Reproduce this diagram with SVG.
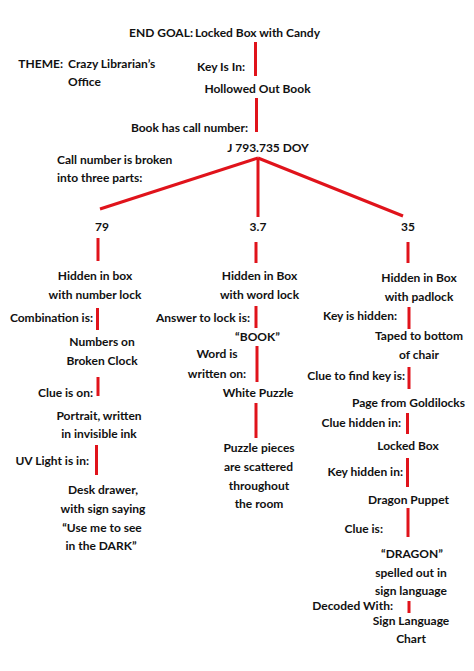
<svg xmlns="http://www.w3.org/2000/svg" width="474" height="671" viewBox="0 0 474 671">
<style>
text{font-family:Lato,"Liberation Sans",sans-serif;font-weight:bold;font-size:12px;fill:#111}
.m{text-anchor:middle}
.e{text-anchor:end}
.c line{stroke:#e0131b;stroke-width:3;stroke-linecap:butt}
</style>
<rect width="474" height="671" fill="#fff"/>
<g class="c" id="connectors">
<line x1="255.5" y1="42" x2="255.5" y2="76"/>
<line x1="256.5" y1="98" x2="256.5" y2="132"/>
<line x1="258" y1="158" x2="100" y2="209"/>
<line x1="258" y1="158" x2="258" y2="217"/>
<line x1="258" y1="158" x2="403" y2="216"/>
<line x1="98" y1="238" x2="98" y2="261"/>
<line x1="97.5" y1="308" x2="97.5" y2="330"/>
<line x1="98" y1="377" x2="98" y2="396"/>
<line x1="96.5" y1="445" x2="96.5" y2="475"/>
<line x1="256" y1="242" x2="256" y2="263"/>
<line x1="256" y1="306" x2="256" y2="328"/>
<line x1="257" y1="346" x2="257" y2="382"/>
<line x1="256" y1="403" x2="256" y2="438"/>
<line x1="408" y1="242" x2="408" y2="263"/>
<line x1="409" y1="307" x2="409" y2="329"/>
<line x1="409" y1="367" x2="409" y2="389"/>
<line x1="407.5" y1="413" x2="407.5" y2="434"/>
<line x1="407.5" y1="458" x2="407.5" y2="487"/>
<line x1="408" y1="508" x2="408" y2="537"/>
<line x1="409" y1="601" x2="409" y2="613"/>
</g>
<g id="goal"><text x="193" y="37" class="e">END GOAL:</text><text x="195" y="37">Locked Box with Candy</text></g>
<g id="theme"><text x="63" y="68" class="e">THEME:</text><text x="68" y="68">Crazy Librarian’s</text><text x="68" y="86">Office</text></g>
<g id="keyisin"><text x="245" y="71" class="e">Key Is In:</text></g>
<g id="book"><text x="257.5" y="93" class="m">Hollowed Out Book</text></g>
<g id="callnumlabel"><text x="248" y="132" class="e">Book has call number:</text></g>
<g id="callnum"><text x="268" y="152" class="m">J 793.735 DOY</text></g>
<g id="brokenlabel"><text x="57" y="164">Call number is broken</text><text x="57" y="182">into three parts:</text></g>
<g id="n79"><text x="102" y="231" class="m">79</text></g>
<g id="n37"><text x="258" y="231" class="m">3.7</text></g>
<g id="n35"><text x="408" y="231" class="m">35</text></g>
<g id="l1"><text x="95" y="280" class="m">Hidden in box</text><text x="95" y="299" class="m">with number lock</text></g>
<g id="l1lab"><text x="93" y="322" class="e">Combination is:</text></g>
<g id="l2"><text x="102" y="346" class="m">Numbers on</text><text x="102" y="365" class="m">Broken Clock</text></g>
<g id="l2lab"><text x="93" y="397" class="e">Clue is on:</text></g>
<g id="l3"><text x="99" y="420" class="m">Portrait, written</text><text x="99" y="438" class="m">in invisible ink</text></g>
<g id="l3lab"><text x="89" y="465" class="e">UV Light is in:</text></g>
<g id="l4"><text x="103" y="494" class="m">Desk drawer,</text><text x="103" y="513" class="m">with sign saying</text><text x="102" y="532" class="m">“Use me to see</text><text x="101" y="550" class="m">in the DARK”</text></g>
<g id="m1"><text x="259.5" y="280" class="m">Hidden in Box</text><text x="259.5" y="299" class="m">with word lock</text></g>
<g id="m1lab"><text x="250" y="322" class="e">Answer to lock is:</text></g>
<g id="m2"><text x="257.5" y="341" class="m">“BOOK”</text></g>
<g id="m2lab"><text x="217" y="358" class="m">Word is</text><text x="217" y="378" class="m">written on:</text></g>
<g id="m3"><text x="258" y="397" class="m">White Puzzle</text></g>
<g id="m4"><text x="259" y="452" class="m">Puzzle pieces</text><text x="258.5" y="471" class="m">are scattered</text><text x="259" y="490" class="m">throughout</text><text x="259" y="508" class="m">the room</text></g>
<g id="r1"><text x="419" y="282" class="m">Hidden in Box</text><text x="419" y="301" class="m">with padlock</text></g>
<g id="r1lab"><text x="397" y="320" class="e">Key is hidden:</text></g>
<g id="r2"><text x="419" y="340" class="m">Taped to bottom</text><text x="419" y="359" class="m">of chair</text></g>
<g id="r2lab"><text x="405" y="380" class="e">Clue to find key is:</text></g>
<g id="r3"><text x="408.5" y="407" class="m">Page from Goldilocks</text></g>
<g id="r3lab"><text x="401" y="427" class="e">Clue hidden in:</text></g>
<g id="r4"><text x="408" y="450" class="m">Locked Box</text></g>
<g id="r4lab"><text x="403" y="476" class="e">Key hidden in:</text></g>
<g id="r5"><text x="408.5" y="504" class="m">Dragon Puppet</text></g>
<g id="r5lab"><text x="383" y="533" class="e">Clue is:</text></g>
<g id="r6"><text x="412" y="558" class="m">“DRAGON”</text><text x="411" y="577" class="m">spelled out in</text><text x="411" y="595" class="m">sign language</text></g>
<g id="r6lab"><text x="393" y="610" class="e">Decoded With:</text></g>
<g id="r7"><text x="411" y="625" class="m">Sign Language</text><text x="411" y="643" class="m">Chart</text></g>
</svg>
